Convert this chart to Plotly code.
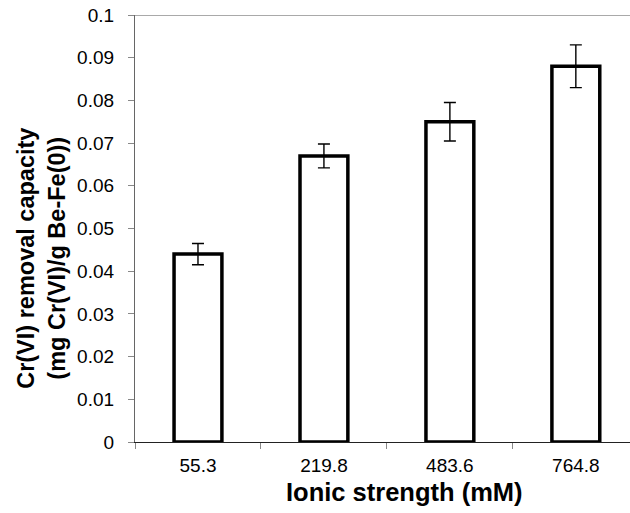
import plotly.graph_objects as go

# Ionic strength levels (mM) and Cr(VI) removal capacity with standard deviations
ionic_strength = ["55.3", "219.8", "483.6", "764.8"]
removal_capacity = [0.044, 0.067, 0.075, 0.088]
capacity_error = [0.0025, 0.0028, 0.0045, 0.005]

y_tick_values = [0, 0.01, 0.02, 0.03, 0.04, 0.05, 0.06, 0.07, 0.08, 0.09, 0.1]
y_tick_labels = ["0", "0.01", "0.02", "0.03", "0.04", "0.05", "0.06", "0.07", "0.08", "0.09", "0.1"]

FONT = "Arial, Liberation Sans, sans-serif"

fig = go.Figure()
fig.add_trace(go.Bar(
    x=ionic_strength,
    y=removal_capacity,
    width=0.38,
    marker=dict(color="white", line=dict(color="black", width=3.5)),
    error_y=dict(type="data", array=capacity_error, visible=True,
                 color="black", thickness=1.4, width=6),
    showlegend=False,
))

# horizontal gridline at the top of the value axis
fig.add_shape(type="line", xref="paper", yref="y", x0=0, x1=1, y0=0.1, y1=0.1,
              line=dict(color="#8c8c8c", width=1.5), layer="below")

fig.update_layout(
    width=630, height=513,
    margin=dict(l=135, r=0, t=15, b=71),
    paper_bgcolor="white", plot_bgcolor="white",
    font=dict(family=FONT, size=19, color="black"),
    bargap=0.62,
    xaxis=dict(
        type="category",
        range=[-0.5, 3.43],
        showline=True, linecolor="#222222", linewidth=1.3,
        ticks="outside", tickson="boundaries", ticklen=6, tickcolor="#888888",
        tickwidth=1.2, ticklabelstandoff=6,
        showgrid=False, zeroline=False,
    ),
    yaxis=dict(
        range=[0, 0.1],
        tickvals=y_tick_values, ticktext=y_tick_labels,
        showline=True, linecolor="#666666", linewidth=1.3,
        ticks="outside", ticklen=6, tickcolor="#888888", tickwidth=1.2,
        ticklabelstandoff=10,
        showgrid=False, zeroline=False,
    ),
    annotations=[
        dict(text="<b>Ionic strength (mM)</b>", xref="paper", yref="paper",
             x=0.5444, y=-0.117, xanchor="center", yanchor="middle",
             showarrow=False, font=dict(family=FONT, size=25.5, color="black")),
        dict(text="<b>Cr(VI) removal capacity<br>(mg Cr(VI)/g Be-Fe(0))</b>",
             xref="paper", yref="paper", x=-0.189, y=0.43,
             xanchor="center", yanchor="middle", textangle=-90,
             showarrow=False, font=dict(family=FONT, size=23.5, color="black")),
    ],
)

fig.write_html("out.html")
